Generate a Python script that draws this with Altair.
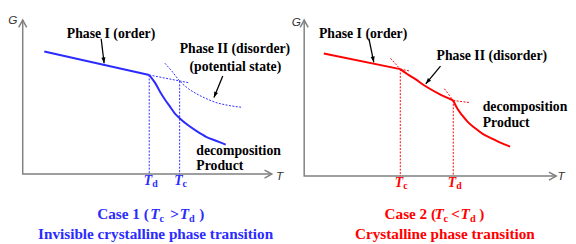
import altair as alt
import pandas as pd
import numpy as np

BLUE = "#2b2bff"
RED = "#ff0000"
GRAY = "#808080"
SERIF = "'Liberation Serif', 'Times New Roman', serif"
SANS = "'Liberation Sans', Arial, sans-serif"

# ---------------- Case 1 (left panel) : schematic T (x) and G (y) values ----------------
c1_axis_T = [0.0, 0.0, 25.4]
c1_axis_G = [15.7, 0.0, 0.0]
c1_phase1_T = [2.2, 12.9]
c1_phase1_G = [12.5, 10.1]
c1_phase1_ext_T = [12.9, 17.0]
c1_phase1_ext_G = [10.1, 9.3]
c1_decomp_T = [12.9, 13.5, 14.0, 14.5, 15.0, 15.5, 16.0, 16.7, 17.7, 18.7, 19.7, 20.7]
c1_decomp_G = [10.1, 9.3, 8.4, 7.6, 6.9, 6.2, 5.7, 5.1, 4.4, 3.8, 3.4, 3.0]
c1_phase2_T = [14.5, 15.2, 16.0, 16.9, 17.7, 18.7, 19.7, 21.0, 22.4]
c1_phase2_G = [11.3, 10.5, 9.5, 8.7, 8.2, 7.7, 7.3, 7.0, 6.8]
c1_trans_T = [12.9, 16.0]
c1_trans_G = [10.1, 9.5]
c1_trans_sub = ["d", "c"]
c1_ptr_T = [[8.0, 8.3], [20.4, 19.5]]
c1_ptr_G = [[13.8, 11.3], [10.0, 7.8]]
c1_labels = ["Phase I (order)", "Phase II (disorder)", "(potential state)", "decomposition", "Product"]
c1_label_T = [4.5, 16.0, 17.0, 17.7, 17.7]
c1_label_G = [14.3, 12.7, 10.9, 2.3, 0.8]
c1_cap_text = ["Case 1 (", "T", "c", ">", "T", "d", ")"]
c1_cap_kind = ["roman", "italic", "sub", "roman", "italic", "sub", "roman"]
c1_cap_T = [7.6, 13.0, 13.95, 15.05, 16.0, 16.95, 18.0]
c1_cap_G = -4.6
c1_cap2 = "Invisible crystalline phase transition"
c1_cap2_T = 13.55
c1_cap2_G = -6.6
c1_axis_letters = ["G", "T"]
c1_axis_letter_T = [-1.0, 26.2]
c1_axis_letter_G = [15.7, -0.2]

# ---------------- Case 2 (right panel) ----------------
c2_axis_T = [0.0, 0.0, 25.7]
c2_axis_G = [15.9, 0.0, 0.0]
c2_phase1_T = [2.0, 9.8]
c2_phase1_G = [12.5, 10.9]
c2_phase1_ext_T = [9.8, 10.8]
c2_phase1_ext_G = [10.9, 10.7]
c2_phase2_pre_T = [8.8, 9.8]
c2_phase2_pre_G = [12.0, 10.9]
c2_phase2_T = [9.8, 10.5, 11.3, 12.3, 13.7, 15.2]
c2_phase2_G = [10.9, 10.4, 9.9, 9.2, 8.4, 7.7]
c2_phase2_ext_T = [15.2, 16.8]
c2_phase2_ext_G = [7.7, 7.5]
c2_decomp_pre_T = [14.3, 15.2]
c2_decomp_pre_G = [8.9, 7.7]
c2_decomp_T = [15.2, 15.6, 16.1, 16.7, 17.4, 18.2, 19.0, 20.0, 21.0]
c2_decomp_G = [7.7, 6.9, 6.2, 5.5, 4.9, 4.3, 3.9, 3.4, 3.0]
c2_trans_T = [9.8, 15.2]
c2_trans_G = [10.9, 7.7]
c2_trans_sub = ["c", "d"]
c2_ptr_T = [[6.6, 7.1], [13.9, 12.4]]
c2_ptr_G = [[14.0, 11.6], [11.2, 9.4]]
c2_labels = ["Phase I (order)", "Phase II (disorder)", "decomposition", "Product"]
c2_label_T = [1.5, 13.5, 18.2, 18.2]
c2_label_G = [14.5, 12.2, 7.0, 5.4]
c2_cap_text = ["Case 2 (", "T", "c", "<", "T", "d", ")"]
c2_cap_kind = ["roman", "italic", "sub", "roman", "italic", "sub", "roman"]
c2_cap_T = [8.2, 13.3, 14.2, 15.0, 15.95, 16.9, 17.85]
c2_cap_G = -4.4
c2_cap2 = "Crystalline phase transition"
c2_cap2_T = 14.35
c2_cap2_G = -6.4
c2_axis_letters = ["G", "T"]
c2_axis_letter_T = [-0.8, 26.2]
c2_axis_letter_G = [15.7, 0.0]


def seg_df(segs):
    rows = []
    for name, Ts, Gs in segs:
        for i, (t, g) in enumerate(zip(Ts, Gs)):
            rows.append({"seg": name, "i": i, "T": t, "G": g})
    return pd.DataFrame(rows)


def make_panel(P, color, width, xdom, ydom):
    X = alt.X("T:Q", scale=alt.Scale(domain=xdom, nice=False, zero=False), axis=None)
    Y = alt.Y("G:Q", scale=alt.Scale(domain=ydom, nice=False, zero=False), axis=None)
    L = []

    # axes with open arrowheads
    L.append(alt.Chart(seg_df([("axis", P["axis_T"], P["axis_G"])])).mark_line(
        color=GRAY, strokeWidth=1.5).encode(x=X, y=Y, order="i:Q"))
    heads = pd.DataFrame({"T": [P["axis_T"][0], P["axis_T"][2]],
                          "G": [P["axis_G"][0], P["axis_G"][2]],
                          "ang": [270, 0]})
    L.append(alt.Chart(heads).mark_point(
        shape="M-1,-0.55L0,0L-1,0.55", filled=False, color=GRAY, strokeWidth=1.5,
        size=220, opacity=1).encode(x=X, y=Y, angle=alt.Angle("ang:Q", scale=None)))

    # dotted auxiliary lines (curves)
    L.append(alt.Chart(seg_df(P["dotted"])).mark_line(
        color=color, strokeWidth=1, strokeDash=[2, 1.5], interpolate="monotone").encode(
        x=X, y=Y, detail="seg:N", order="i:Q"))
    # dotted vertical transition lines
    vsegs = [(f"v{k}", [t, t], [g, 0.0]) for k, (t, g) in enumerate(zip(P["trans_T"], P["trans_G"]))]
    L.append(alt.Chart(seg_df(vsegs)).mark_line(
        color=color, strokeWidth=1, strokeDash=[2, 1.5]).encode(
        x=X, y=Y, detail="seg:N", order="i:Q"))
    # solid curves
    L.append(alt.Chart(seg_df(P["solid"])).mark_line(
        color=color, strokeWidth=2, interpolate="monotone").encode(
        x=X, y=Y, detail="seg:N", order="i:Q"))

    # pointer arrows
    psegs = [(f"p{k}", t, g) for k, (t, g) in enumerate(zip(P["ptr_T"], P["ptr_G"]))]
    L.append(alt.Chart(seg_df(psegs)).mark_line(color="black", strokeWidth=1.3).encode(
        x=X, y=Y, detail="seg:N", order="i:Q"))
    tips = pd.DataFrame({
        "T": [t[1] for t in P["ptr_T"]],
        "G": [g[1] for g in P["ptr_G"]],
        "ang": [float(np.degrees(np.arctan2(t[1] - t[0], g[1] - g[0]))) % 360
                for t, g in zip(P["ptr_T"], P["ptr_G"])],
    })
    L.append(alt.Chart(tips).mark_point(
        shape="M0,0L-0.5,1.4L0.5,1.4Z", filled=True, color="black", size=70, opacity=1).encode(
        x=X, y=Y, angle=alt.Angle("ang:Q", scale=None)))

    # phase labels
    lab = pd.DataFrame({"text": P["labels"], "T": P["label_T"], "G": P["label_G"]})
    L.append(alt.Chart(lab).mark_text(
        font=SERIF, fontWeight="bold", fontSize=14, align="left", baseline="middle",
        color="black").encode(x=X, y=Y, text="text:N"))

    # axis letters
    al = pd.DataFrame({"text": P["axis_letters"], "T": P["axis_letter_T"], "G": P["axis_letter_G"]})
    L.append(alt.Chart(al).mark_text(
        font=SANS, fontStyle="italic", fontSize=12, align="center", baseline="middle",
        color="#333333").encode(x=X, y=Y, text="text:N"))

    # transition temperature labels under the T axis
    tl = pd.DataFrame({"T": P["trans_T"], "G": [-1.15] * len(P["trans_T"]),
                       "T_": ["T"] * len(P["trans_T"]), "sub": P["trans_sub"]})
    L.append(alt.Chart(tl).mark_text(
        font=SERIF, fontWeight="bold", fontStyle="italic", fontSize=14, align="right",
        baseline="alphabetic", dx=3, color=color).encode(x=X, y=Y, text="T_:N"))
    L.append(alt.Chart(tl).mark_text(
        font=SERIF, fontWeight="bold", fontSize=10, align="left",
        baseline="alphabetic", dx=3, dy=2, color=color).encode(x=X, y=Y, text="sub:N"))

    # captions
    cap = pd.DataFrame({"text": P["cap_text"], "kind": P["cap_kind"], "T": P["cap_T"],
                        "G": [P["cap_G"]] * len(P["cap_text"])})
    L.append(alt.Chart(cap).transform_filter(alt.datum.kind == "roman").mark_text(
        font=SERIF, fontWeight="bold", fontSize=15.5, align="left", baseline="alphabetic",
        color=color).encode(x=X, y=Y, text="text:N"))
    L.append(alt.Chart(cap).transform_filter(alt.datum.kind == "italic").mark_text(
        font=SERIF, fontWeight="bold", fontStyle="italic", fontSize=15.5, align="left",
        baseline="alphabetic", color=color).encode(x=X, y=Y, text="text:N"))
    L.append(alt.Chart(cap).transform_filter(alt.datum.kind == "sub").mark_text(
        font=SERIF, fontWeight="bold", fontSize=10.5, align="left", baseline="alphabetic",
        dy=3, color=color).encode(x=X, y=Y, text="text:N"))
    cap2 = pd.DataFrame({"text": [P["cap2"]], "T": [P["cap2_T"]], "G": [P["cap2_G"]]})
    L.append(alt.Chart(cap2).mark_text(
        font=SERIF, fontWeight="bold", fontSize=15.5, align="center", baseline="alphabetic",
        color=color).encode(x=X, y=Y, text="text:N"))

    return alt.layer(*L).properties(width=width, height=228)


P1 = dict(
    axis_T=c1_axis_T, axis_G=c1_axis_G,
    solid=[("phase1", c1_phase1_T, c1_phase1_G), ("decomp", c1_decomp_T, c1_decomp_G)],
    dotted=[("phase1ext", c1_phase1_ext_T, c1_phase1_ext_G), ("phase2", c1_phase2_T, c1_phase2_G)],
    trans_T=c1_trans_T, trans_G=c1_trans_G, trans_sub=c1_trans_sub,
    ptr_T=c1_ptr_T, ptr_G=c1_ptr_G,
    labels=c1_labels, label_T=c1_label_T, label_G=c1_label_G,
    axis_letters=c1_axis_letters, axis_letter_T=c1_axis_letter_T, axis_letter_G=c1_axis_letter_G,
    cap_text=c1_cap_text, cap_kind=c1_cap_kind, cap_T=c1_cap_T, cap_G=c1_cap_G,
    cap2=c1_cap2, cap2_T=c1_cap2_T, cap2_G=c1_cap2_G,
)
P2 = dict(
    axis_T=c2_axis_T, axis_G=c2_axis_G,
    solid=[("phase1", c2_phase1_T, c2_phase1_G), ("phase2", c2_phase2_T, c2_phase2_G),
           ("decomp", c2_decomp_T, c2_decomp_G)],
    dotted=[("phase1ext", c2_phase1_ext_T, c2_phase1_ext_G), ("phase2pre", c2_phase2_pre_T, c2_phase2_pre_G),
            ("phase2ext", c2_phase2_ext_T, c2_phase2_ext_G), ("decomppre", c2_decomp_pre_T, c2_decomp_pre_G)],
    trans_T=c2_trans_T, trans_G=c2_trans_G, trans_sub=c2_trans_sub,
    ptr_T=c2_ptr_T, ptr_G=c2_ptr_G,
    labels=c2_labels, label_T=c2_label_T, label_G=c2_label_G,
    axis_letters=c2_axis_letters, axis_letter_T=c2_axis_letter_T, axis_letter_G=c2_axis_letter_G,
    cap_text=c2_cap_text, cap_kind=c2_cap_kind, cap_T=c2_cap_T, cap_G=c2_cap_G,
    cap2=c2_cap2, cap2_T=c2_cap2_T, cap2_G=c2_cap2_G,
)

left = make_panel(P1, BLUE, 282, [-1.5, 26.7], [-6.1, 16.7])
right = make_panel(P2, RED, 278, [-2.0, 25.8], [-5.9, 16.9])

chart = alt.hconcat(left, right, spacing=0, bounds="flush").properties(
    padding=0, background="white"
).configure_view(stroke=None)

chart.save("out.html", embed_options={"renderer": "svg", "actions": False})
